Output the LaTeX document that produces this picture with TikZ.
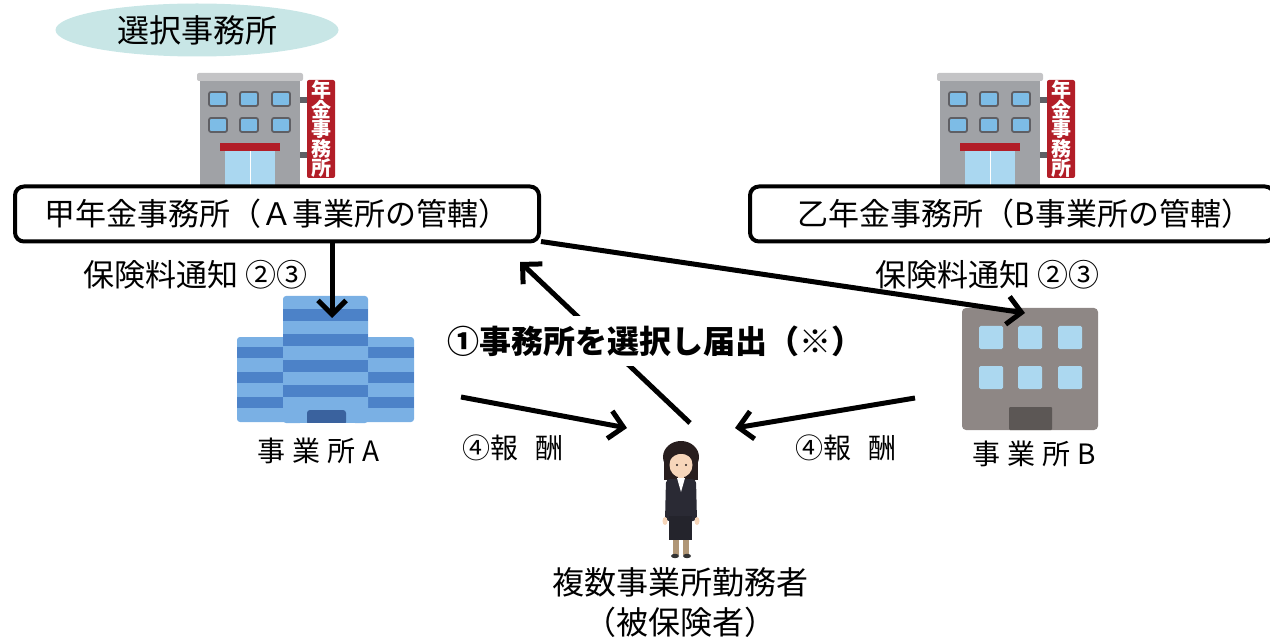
\documentclass[tikz,border=0pt]{standalone}
\usepackage{fontspec}
\setmainfont{Noto Sans CJK JP}
\usepackage{tikz}
\usetikzlibrary{arrows.meta,positioning,shapes.geometric}
\definecolor{selfill}{RGB}{200,230,230}
\definecolor{pgray}{RGB}{160,162,166}
\definecolor{proof}{RGB}{196,196,198}
\definecolor{pwin}{RGB}{125,188,230}
\definecolor{pframe}{RGB}{95,95,100}
\definecolor{pred}{RGB}{178,30,40}
\definecolor{pglass}{RGB}{170,215,240}
\definecolor{alight}{RGB}{122,176,228}
\definecolor{adark}{RGB}{76,130,200}
\definecolor{adoor}{RGB}{58,98,158}
\definecolor{bgray}{RGB}{142,135,133}
\definecolor{bwin}{RGB}{172,216,240}
\definecolor{bdoor}{RGB}{92,87,85}
\definecolor{hairc}{RGB}{40,30,30}
\definecolor{skin}{RGB}{247,214,186}
\definecolor{suit}{RGB}{42,42,52}
\definecolor{legc}{RGB}{176,150,118}
\tikzstyle{office} = [rectangle, draw=black, line width=4pt, rounded corners=9pt, fill=white, minimum width=524pt, minimum height=55pt, font=\fontsize{31}{36}\selectfont]
\tikzstyle{flow} = [line width=5pt, -{Straight Barb[length=14pt,width=28pt]}]
\tikzstyle{lbl} = [font=\fontsize{28}{32}\selectfont, inner sep=0pt]

\begin{document}
\begin{tikzpicture}[x=1pt,y=-1pt]
\useasboundingbox (0,0) rectangle (1270,639);

\node[ellipse, fill=selfill, minimum width=283pt, minimum height=53pt, font=\fontsize{32}{36}\selectfont] (sel) at (197,30) {選択事務所};

% pension office buildings
\foreach \dx in {0,740} {
\begin{scope}[xshift=\dx pt]
\fill[pgray] (200,80) rectangle (300,190);
\fill[proof, rounded corners=2pt] (197,73) rectangle (303,81);
\foreach \wx in {209,240,272}
  \foreach \wy in {92,118}
    \draw[pframe, fill=pwin, line width=1.8pt, rounded corners=2pt] (\wx,\wy) rectangle ++(18,14);
\fill[pglass] (225,150) rectangle (275,190);
\draw[white, line width=1pt] (250,150) -- (250,190);
\fill[pred] (220,143) rectangle (280,151);
\fill[pframe] (300,97) rectangle (308,103);
\fill[pframe] (300,152) rectangle (308,158);
\fill[pred, rounded corners=2pt] (307,80) rectangle (335,178);
\node[text=white, align=center, inner sep=0pt, font=\fontsize{20}{19.5}\selectfont\bfseries] at (321,129) {年\\金\\事\\務\\所};
\end{scope}
}

\node[office] (kouA) at (277,214) {甲年金事務所（Ａ事業所の管轄）\hspace{14pt}};
\node[office] (otsuB) at (1012,214) {\hspace{26pt}乙年金事務所（B事業所の管轄）};

% office A
\fill[alight, rounded corners=3pt] (237,337) rectangle (414,422);
\foreach \y in {347,372,397}
  \fill[adark] (237,\y) rectangle (414,\y+11);
\fill[alight, rounded corners=3pt] (283,296) rectangle (368,423);
\foreach \y in {309,334,360,385}
  \fill[adark] (283,\y) rectangle (368,\y+12);
\fill[adoor, rounded corners=3pt] (307,410) rectangle (346,425);
\fill[white] (300,423) rectangle (355,428);

% office B
\fill[bgray, rounded corners=4pt] (962,308) rectangle (1098,430);
\foreach \wx in {979,1018,1058}
  \foreach \wy in {326,366}
    \fill[bwin, rounded corners=1.5pt] (\wx,\wy) rectangle ++(24,23);
\fill[bdoor, rounded corners=1pt] (1009,407) rectangle (1052,430);

% worker
\fill[hairc] (664,458) rectangle (698,480);
\fill[hairc] (681,457) ellipse (18 and 16);
\fill[skin] (681,465) ellipse (11.5 and 12.5);
\fill[hairc] (668,462) .. controls (668,441) and (694,441) .. (694,462) .. controls (688,452) and (676,450) .. cycle;
\fill[hairc] (677,465) circle (1.2);
\fill[hairc] (686,465) circle (1.2);
\fill[skin] (678,474) rectangle (684,480);
\fill[suit, rounded corners=4pt] (666,479) -- (696,479) -- (697,521) -- (665,521) -- cycle;
\fill[white] (677,478) -- (685,478) -- (681,492) -- cycle;
\fill[suit!85!black] (669,516) rectangle (692,540);
\fill[skin] (665,521) ellipse (2.5 and 4);
\fill[skin] (697,521) ellipse (2.5 and 4);
\fill[legc] (673,540) rectangle (679,555);
\fill[legc] (683,540) rectangle (689,555);
\fill[black!80] (675,556) ellipse (4 and 2.2);
\fill[black!80] (687,556) ellipse (4 and 2.2);

\coordinate (aTop) at (332,318);
\coordinate (bTop) at (1025,313);
\coordinate (kTip) at (520,262);
\coordinate (wHead) at (690,423);
\coordinate (aSide) at (461,397);
\coordinate (bSide) at (915,398);
\coordinate (wLeft) at (627,428);
\coordinate (wRight) at (735,428);

\draw[flow] (kouA.south -| aTop) -- (aTop);
\draw[flow] (kouA.south east) ++(0,-2) -- (bTop);
\draw[flow] (wHead) -- (kTip);
\draw[flow] (aSide) -- (wLeft);
\draw[flow] (bSide) -- (wRight);

\node[fill=white, minimum height=50pt, inner sep=4pt, font=\fontsize{32}{36}\selectfont\bfseries] (todoke) at (655,341) {①事務所を選択し届出（※）};

\node[lbl, anchor=west, font=\fontsize{31}{34}\selectfont] (tsuchiA) at (83,275) {保険料通知 ②③};
\node[lbl, anchor=west, font=\fontsize{31}{34}\selectfont] (tsuchiB) at (875,275) {保険料通知 ②③};
\node[lbl, anchor=west] (jigyoA) at (257,451) {事\hspace{7pt}業\hspace{7pt}所\hspace{7pt}A};
\node[lbl, anchor=west] (jigyoB) at (972,454) {事\hspace{7pt}業\hspace{7pt}所\hspace{7pt}B};
\node[lbl, anchor=west] (hoshuA) at (462,448) {④報\hspace{17pt}酬};
\node[lbl, anchor=west] (hoshuB) at (795,448) {④報\hspace{17pt}酬};
\node[lbl, align=center, font=\fontsize{32}{40}\selectfont] (worker) at (680,603) {複数事業所勤務者\\（被保険者）};
\end{tikzpicture}
\end{document}
